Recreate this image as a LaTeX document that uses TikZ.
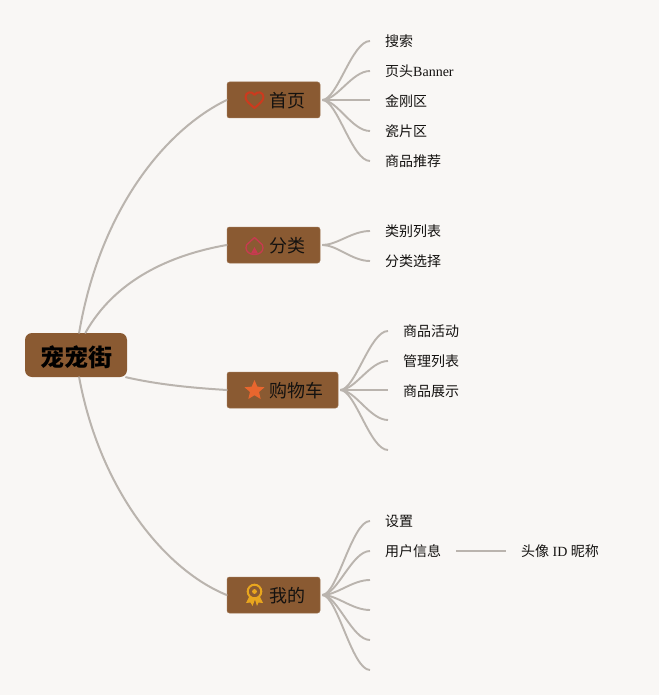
\documentclass[tikz,border=0pt]{standalone}
\usepackage{fontspec}
\setmainfont{Liberation Serif}
\newfontfamily\cjk{Noto Sans CJK SC}
\usetikzlibrary{shapes.geometric,calc}
\definecolor{paper}{HTML}{F9F7F5}
\definecolor{boxfill}{HTML}{8A5A32}
\definecolor{wire}{HTML}{BAB4AE}
\definecolor{ink}{HTML}{141210}
\definecolor{heartc}{HTML}{CC3A1E}
\definecolor{housec}{HTML}{C83A50}
\definecolor{starc}{HTML}{E8662E}
\definecolor{medalc}{HTML}{E8A61E}
\tikzset{
  rootbox/.style={fill=boxfill,rounded corners=7pt,minimum width=102pt,minimum height=44pt,inner sep=0pt,text=black,font=\cjk\bfseries\fontsize{24}{28}\selectfont},
  branch/.style={fill=boxfill,draw=boxfill!85!white,line width=.5pt,rounded corners=2.5pt,minimum height=36pt,inner sep=0pt,text=ink,font=\cjk\fontsize{18}{22}\selectfont},
  leaf/.style={anchor=west,inner xsep=15pt,inner ysep=0pt,text=ink,font=\fontsize{14}{17}\selectfont},
  link/.style={draw=wire,line width=2pt,line cap=round},
  sub/.style={draw=wire,line width=1.9pt},
  icon/.style={line width=2pt,line join=round}
}
\newcommand{\zh}[1]{{\cjk #1}}
\newcommand{\lowered}[1]{\raisebox{-7.6pt}[0pt][0pt]{#1}}
\begin{document}
\begin{tikzpicture}[x=1pt,y=-1pt]
\useasboundingbox (0,0) rectangle (659,695);
\fill[paper] (0,0) rectangle (659,695);

% root and branches
\node[rootbox] (root) at (76,355) {\raisebox{-11pt}[0pt][0pt]{宠宠街}};
\node[branch,minimum width=93pt] (home) at (273.5,100) {\hspace*{27pt}\lowered{首页}};
\node[branch,minimum width=93pt] (cat) at (273.5,245) {\hspace*{27pt}\lowered{分类}};
\node[branch,minimum width=111pt] (cart) at (282.5,390) {\hspace*{27pt}\lowered{购物车}};
\node[branch,minimum width=93pt] (mine) at (273.5,595) {\hspace*{27pt}\lowered{我的}};

% leaves
\node[leaf] (h1) at (370,41) {\zh{搜索}};
\node[leaf] (h2) at (370,71) {\zh{页头}Banner};
\node[leaf] (h3) at (370,101) {\zh{金刚区}};
\node[leaf] (h4) at (370,131) {\zh{瓷片区}};
\node[leaf] (h5) at (370,161) {\zh{商品推荐}};
\node[leaf] (c1) at (370,231) {\zh{类别列表}};
\node[leaf] (c2) at (370,261) {\zh{分类选择}};
\node[leaf] (s1) at (388,331) {\zh{商品活动}};
\node[leaf] (s2) at (388,361) {\zh{管理列表}};
\node[leaf] (s3) at (388,391) {\zh{商品展示}};
\coordinate (s4) at (388,420);
\coordinate (s5) at (388,450);
\node[leaf] (m1) at (370,521) {\zh{设置}};
\node[leaf] (m2) at (370,551) {\zh{用户信息}};
\node[leaf] (m2a) at (506,551) {\zh{头像} ID \zh{昵称}};
\coordinate (m3) at (370,580);
\coordinate (m4) at (370,610);
\coordinate (m5) at (370,640);
\coordinate (m6) at (370,670);

% main connectors
\draw[link] (root.82) .. controls (100,210) and (165,130) .. (home.west);
\draw[link] (root.67) .. controls (115,280) and (170,255) .. (cat.west);
\draw[link] (root.-24) .. controls (160,385) and (195,388) .. (cart.west);
\draw[link] (root.-82) .. controls (100,490) and (165,570) .. (mine.west);

% sub connectors
\foreach \t in {h1,h2,h4,h5}{\draw[sub] ($(home.east)+(2,0)$) .. controls +(15,0) and ($(\t.west)+(-18,0)$) .. (\t.west);}
\draw[sub] ($(home.east)+(2,0)$) -- ($(h3.west)+(0,-1)$);
\foreach \t in {c1,c2}{\draw[sub] ($(cat.east)+(2,0)$) .. controls +(15,0) and ($(\t.west)+(-18,0)$) .. (\t.west);}
\foreach \t in {s1,s2}{\draw[sub] ($(cart.east)+(2,0)$) .. controls +(15,0) and ($(\t.west)+(-18,0)$) .. (\t.west);}
\draw[sub] ($(cart.east)+(2,0)$) -- ($(s3.west)+(0,-1)$);
\foreach \t in {s4,s5}{\draw[sub] ($(cart.east)+(2,0)$) .. controls +(15,0) and ($(\t)+(-18,0)$) .. (\t);}
\foreach \t in {m1,m2}{\draw[sub] ($(mine.east)+(2,0)$) .. controls +(15,0) and ($(\t.west)+(-18,0)$) .. (\t.west);}
\foreach \t in {m3,m4,m5,m6}{\draw[sub] ($(mine.east)+(2,0)$) .. controls +(15,0) and ($(\t)+(-18,0)$) .. (\t);}
\draw[sub] (m2.east) -- (m2a.west);

% icons
\draw[icon,draw=heartc] (254.5,108) .. controls (250,104) and (245.5,101) .. (245.5,97)
  .. controls (245.5,92) and (252,90.5) .. (254.5,95)
  .. controls (257,90.5) and (263.5,92) .. (263.5,97)
  .. controls (263.5,101) and (259,104) .. (254.5,108) -- cycle;
\draw[icon,draw=housec,line width=1.3pt] (246.5,245) -- (254.5,237.5) -- (262.5,245) -- (263,248)
  .. controls (263,252) and (259,254.5) .. (254.5,254.5) .. controls (250,254.5) and (246,252) .. (246,248) -- cycle;
\fill[housec] (251,253.5) -- (254.5,247) -- (258,253.5) -- cycle;
\node[star,star points=5,star point ratio=2.2,fill=starc,inner sep=0pt,minimum size=21pt] (staricon) at (254.5,390.5) {};
\draw[icon,draw=medalc] (254.5,591.5) circle (6.8pt);
\fill[medalc] (254.5,591.5) circle (2.4pt);
\fill[medalc] (249,597) -- (246,603) -- (250.5,602.5) -- (252.5,606) -- (255,599.5) -- (257,606) -- (258.5,602.5) -- (263,603) -- (260,597) -- cycle;
\end{tikzpicture}
\end{document}
